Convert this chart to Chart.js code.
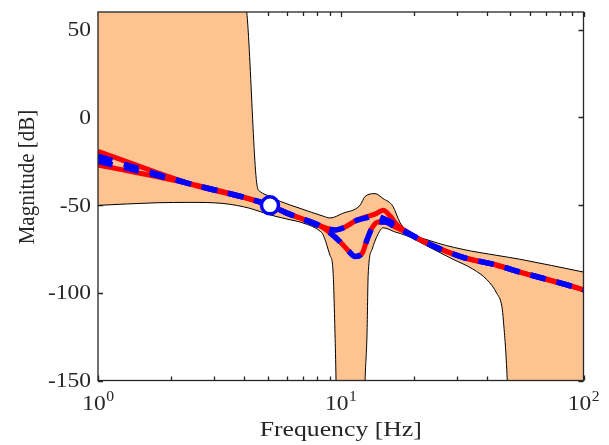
<!DOCTYPE html>
<html>
<head>
<meta charset="utf-8">
<script src="https://cdn.jsdelivr.net/npm/chart.js@4/dist/chart.umd.min.js"></script>
<style>
  html, body { margin: 0; padding: 0; background: #fff; }
  #wrap { width: 609px; height: 445px; }
</style>
</head>
<body>
<div id="wrap"><canvas id="bode"></canvas></div>
<script>
// Axis ticks
const xTickValues = [1, 10, 100];
const xTickExps = ['0', '1', '2'];
const xMinorValues = [2, 3, 4, 5, 6, 7, 8, 9, 20, 30, 40, 50, 60, 70, 80, 90];
const yTickValues = [-150, -100, -50, 0, 50];
const xTitle = 'Frequency [Hz]';
const yTitle = 'Magnitude [dB]';

// Uncertainty band (upper / lower bound)
const upperFreq = [1, 4.04, 4.52, 4.65, 5.11, 5.63, 6.8, 8.45, 9.03, 10.2, 12.0, 12.6, 13.85, 14.94, 16.4, 17.5, 18.7, 23.3, 31.9, 44.0, 54.7, 100];
const upperMag = [100, 65, -38.8, -42.3, -45.1, -47.9, -51.9, -56.3, -57.4, -54.7, -50.2, -45.1, -43.5, -46.3, -50.7, -59.7, -64.7, -70.3, -75.3, -78.7, -80.9, -88.2];
const lowerFreq = [1, 1.75, 2.39, 3.27, 4.23, 5.11, 6.18, 6.8, 8.22, 8.45, 9.03, 9.28, 9.47, 9.56, 9.6, 12.5, 12.6, 12.83, 12.97, 13.46, 14.1, 14.94, 16.7, 18.7, 23.3, 29.0, 35.0, 40.1, 44.0, 46.1, 46.8, 48.5, 49, 100];
const lowerMag = [-50.2, -48.7, -48.5, -49.1, -51.9, -55.6, -58.4, -59.7, -64.9, -66.8, -78.7, -86.4, -123.4, -149.7, -170, -170, -149.7, -123.4, -89.9, -75.3, -67.8, -63.0, -65.3, -67.5, -74.2, -80.9, -86.5, -92.7, -100.5, -107.8, -116.2, -149.7, -170, -170];

// Red solid responses
const redAFreq = [1, 2.39, 5.11, 6.0, 6.8, 8.22, 9.47, 10.42, 11.46, 12.59, 13.85, 14.94, 15.97, 17.06, 18.41, 23.3, 31.9, 44.0, 54.7, 85.5, 100];
const redAMag = [-19.4, -37.9, -50.2, -54.6, -57.4, -61.9, -64.2, -62.5, -59.1, -56.9, -55.2, -53.0, -56.3, -61.3, -64.7, -72.5, -79.8, -84.3, -88.2, -95.5, -98.3];
const redBFreq = [1, 2.39, 5.11, 6.0, 6.8, 8.22, 9.03, 9.93, 10.72, 11.46, 12.24, 12.83, 13.46, 14.25, 15.22, 16.74, 18.41, 23.3, 31.9, 44.0, 54.7, 85.5, 100];
const redBMag = [-27.2, -37.9, -50.2, -54.6, -57.4, -61.9, -65.8, -70.9, -75.9, -79.3, -77.6, -69.8, -63.0, -59.7, -59.7, -62.5, -65.3, -72.5, -79.8, -84.3, -88.2, -95.5, -98.3];

// Blue dashed estimates
const blueAFreq = [1, 2.39, 5.11, 6.0, 6.8, 8.22, 9.47, 10.42, 11.46, 12.59, 13.85, 14.94, 15.97, 17.06, 18.41, 23.3, 31.9, 44.0, 54.7, 85.5, 100];
const blueAMag = [-22.2, -37.9, -50.2, -54.6, -57.4, -61.9, -64.2, -62.5, -59.1, -57.5, -56.0, -57.5, -59.5, -62.3, -64.9, -72.5, -79.8, -84.3, -88.2, -95.5, -98.3];
const blueBFreq = [1, 2.39, 5.11, 6.0, 6.8, 8.22, 9.03, 9.93, 10.72, 11.46, 12.24, 12.83, 13.46, 14.25, 15.22, 16.74, 18.41, 23.3, 31.9, 44.0, 54.7, 85.5, 100];
const blueBMag = [-25.0, -37.9, -50.2, -54.6, -57.4, -61.9, -65.8, -70.9, -75.9, -79.3, -77.6, -69.8, -63.0, -59.7, -59.7, -62.5, -65.3, -72.5, -79.8, -84.3, -88.2, -95.5, -98.3];

// Highlighted point
const markerFreq = [5.11];
const markerMag = [-50.2];

const AXIS_COLOR = '#262626';
const FONT = '"Liberation Serif", "DejaVu Serif", serif';
const TEXT_STRETCH = 1.12;   // reference text is a bit wider than it is tall

const toPoints = (xs, ys) => xs.map((x, i) => ({ x: x, y: ys[i] }));

function drawText(ctx, text, x, y, size, sx, align, baseline, rotate) {
    ctx.save();
    ctx.translate(x, y);
    ctx.scale(sx, 1);
    if (rotate) ctx.rotate(rotate);
    ctx.font = size + 'px ' + FONT;
    ctx.textAlign = align;
    ctx.textBaseline = baseline;
    ctx.fillText(text, 0, 0);
    ctx.restore();
}

function textWidth(ctx, text, size, sx) {
    ctx.font = size + 'px ' + FONT;
    return ctx.measureText(text).width * sx;
}

const axesDecor = {
    id: 'axesDecor',
    beforeDatasetsDraw(chart) {
        const { ctx, chartArea: a, scales: { x, y } } = chart;
        ctx.save();
        ctx.strokeStyle = AXIS_COLOR;
        ctx.lineWidth = 1.3;
        ctx.beginPath();
        xMinorValues.concat(xTickValues).forEach(v => {
            const px = Math.round(x.getPixelForValue(v)) + 0.5;
            const len = xTickValues.includes(v) ? 5 : 4;
            ctx.moveTo(px, a.bottom); ctx.lineTo(px, a.bottom - len);
            ctx.moveTo(px, a.top); ctx.lineTo(px, a.top + len);
        });
        yTickValues.forEach(v => {
            const py = Math.round(y.getPixelForValue(v)) + 0.5;
            ctx.moveTo(a.left, py); ctx.lineTo(a.left + 5, py);
            ctx.moveTo(a.right, py); ctx.lineTo(a.right - 5, py);
        });
        ctx.stroke();
        ctx.restore();
    },
    afterDatasetsDraw(chart) {
        const { ctx, chartArea: a, scales: { x, y } } = chart;
        ctx.save();
        ctx.strokeStyle = AXIS_COLOR;
        ctx.lineWidth = 1.3;
        ctx.strokeRect(a.left, a.top, a.right - a.left, a.bottom - a.top);
        ctx.fillStyle = AXIS_COLOR;

        // y tick labels
        yTickValues.forEach(v => {
            drawText(ctx, String(v), a.left - 7, y.getPixelForValue(v) + 1, 21, TEXT_STRETCH, 'right', 'middle');
        });

        // x tick labels as 10^n
        xTickValues.forEach((v, i) => {
            const px = x.getPixelForValue(v);
            const wBase = textWidth(ctx, '10', 21, TEXT_STRETCH);
            const wExp = textWidth(ctx, xTickExps[i], 14, TEXT_STRETCH);
            const x0 = px - (wBase + wExp) / 2;
            drawText(ctx, '10', x0, a.bottom + 29, 21, TEXT_STRETCH, 'left', 'alphabetic');
            drawText(ctx, xTickExps[i], x0 + wBase + 0.5, a.bottom + 20, 14, TEXT_STRETCH, 'left', 'alphabetic');
        });

        // axis titles
        drawText(ctx, xTitle, (a.left + a.right) / 2, 430, 22, 1.17, 'center', 'middle');
        drawText(ctx, yTitle, 28, 177, 21, 1.1, 'center', 'middle', -Math.PI / 2);
        ctx.restore();
    }
};

const curve = { pointRadius: 0, cubicInterpolationMode: 'monotone' };

new Chart(document.getElementById('bode'), {
    type: 'line',
    data: {
        datasets: [
            {
                label: 'marker',
                data: toPoints(markerFreq, markerMag),
                showLine: false,
                pointRadius: 8.5,
                pointBorderWidth: 3.5,
                pointBackgroundColor: '#ffffff',
                pointBorderColor: '#0000ff',
                order: 0
            },
            Object.assign({
                label: 'estimate A',
                data: toPoints(blueAFreq, blueAMag),
                borderColor: '#0000ff',
                borderWidth: 5.5,
                borderDash: [15, 12],
                borderCapStyle: 'butt',
                order: 1
            }, curve),
            Object.assign({
                label: 'estimate B',
                data: toPoints(blueBFreq, blueBMag),
                borderColor: '#0000ff',
                borderWidth: 5.5,
                borderDash: [15, 12],
                borderCapStyle: 'butt',
                order: 1
            }, curve),
            Object.assign({
                label: 'true A',
                data: toPoints(redAFreq, redAMag),
                borderColor: '#ff0000',
                borderWidth: 5,
                order: 2
            }, curve),
            Object.assign({
                label: 'true B',
                data: toPoints(redBFreq, redBMag),
                borderColor: '#ff0000',
                borderWidth: 5,
                order: 2
            }, curve),
            Object.assign({
                label: 'upper',
                data: toPoints(upperFreq, upperMag),
                borderColor: '#000000',
                borderWidth: 1,
                backgroundColor: 'rgb(253,196,146)',
                fill: 6,
                order: 4
            }, curve),
            Object.assign({
                label: 'lower',
                data: toPoints(lowerFreq, lowerMag),
                borderColor: '#000000',
                borderWidth: 1,
                fill: false,
                order: 3
            }, curve)
        ]
    },
    options: {
        responsive: true,
        maintainAspectRatio: false,
        animation: false,
        layout: { padding: { top: 5, right: 25.5, left: 0, bottom: 0 } },
        plugins: {
            legend: { display: false },
            tooltip: { enabled: false }
        },
        scales: {
            x: {
                type: 'logarithmic',
                min: 1,
                max: 100,
                grid: { display: false },
                border: { display: false },
                ticks: { display: false },
                afterFit(scale) {
                    scale.height = 64.5;
                    scale.paddingLeft = 0;
                    scale.paddingRight = 0;
                }
            },
            y: {
                min: -150,
                max: 60,
                grid: { display: false },
                border: { display: false },
                ticks: { display: false },
                afterFit(scale) {
                    scale.width = 98;
                    scale.paddingTop = 0;
                    scale.paddingBottom = 0;
                }
            }
        }
    },
    plugins: [axesDecor]
});
</script>
</body>
</html>
